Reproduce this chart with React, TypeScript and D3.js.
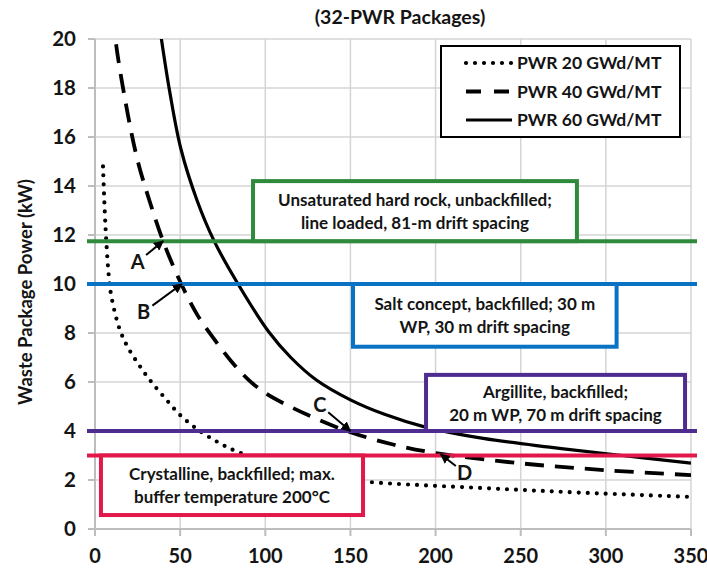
import React from "react";
import * as d3 from "d3";

const xTicks = [0, 50, 100, 150, 200, 250, 300, 350];
const yTicks = [0, 2, 4, 6, 8, 10, 12, 14, 16, 18, 20];

const pwr20: [number, number][] = [
  [4.7, 14.8], [5.7, 13.0], [6.6, 11.8], [8, 10.4], [9.6, 9.5], [14.5, 8.15], [19.4, 7.4],
  [25.3, 6.75], [32, 6.1], [41, 5.35], [50, 4.65], [60.5, 4.05], [72, 3.55], [82, 3.2],
  [110, 2.5], [130, 2.18], [159, 1.93], [228, 1.67], [287, 1.48], [350, 1.31],
];
const pwr40: [number, number][] = [
  [11, 21], [12, 20], [18, 17.4], [25, 15.05], [32, 13.4], [40, 11.75],
  [50, 10.1], [60, 8.75], [70, 7.75], [80, 6.85], [90, 6.1], [100, 5.55], [115, 4.98],
  [130, 4.5], [150, 3.95], [175, 3.45], [200, 3.1], [250, 2.68], [300, 2.4], [350, 2.2],
];
const pwr60: [number, number][] = [
  [37, 21], [39, 20], [44, 17.8], [50.5, 15.5], [60, 13.4], [70, 11.75], [84, 10],
  [102, 8.05], [115, 7.0], [130, 6.08], [150, 5.27], [170, 4.68], [193, 4.18],
  [228, 3.7], [267, 3.34], [307, 3.02], [350, 2.69],
];

const seriesNames = ["PWR 20 GWd/MT", "PWR 40 GWd/MT", "PWR 60 GWd/MT"];
const limitValues = [11.75, 10, 4, 3];
const limitColors = ["#2f8a3c", "#0a72c2", "#4f2d90", "#e3184a"];
const limitLines = [
  ["Unsaturated hard rock, unbackfilled;", "line loaded, 81-m drift spacing"],
  ["Salt concept, backfilled; 30 m", "WP, 30 m drift spacing"],
  ["Argillite, backfilled;", "20 m WP, 70 m drift spacing"],
  ["Crystalline, backfilled; max.", "buffer temperature 200°C"],
];
// box extents in data units: [x0, x1, yTop, yBottom]
const boxExtents = [
  [92.8, 283, 14.2, 11.75],
  [151.5, 306.3, 10, 7.44],
  [194.4, 346.5, 6.29, 4],
  [3.5, 157.4, 3, 0.57],
];
const markerLabels = ["A", "B", "C", "D"];
const markerPoints: [number, number][] = [[40, 11.75], [51, 10], [150, 4], [203, 3.05]];
const markerTextPos: [number, number][] = [[25, 10.9], [28.5, 8.85], [132, 5.05], [217, 2.3]];

const FONT = "Lato, 'Open Sans', sans-serif";
const INK = "#141414";

export default function App() {
  const W = 707, H = 571;
  const x = d3.scaleLinear().domain([0, 350]).range([95, 691]);
  const y = d3.scaleLinear().domain([0, 20]).range([529, 39]);
  const line = d3.line<[number, number]>().x(d => x(d[0])).y(d => y(d[1])).curve(d3.curveCatmullRom.alpha(0.5));
  const styles = [
    { dash: "0 9", width: 4.2, cap: "round" as const },
    { dash: "19 11", width: 3.8, cap: "butt" as const },
    { dash: "", width: 3.2, cap: "butt" as const },
  ];
  const series = [pwr20, pwr40, pwr60];

  return (
    <svg width={W} height={H} style={{ display: "block", position: "absolute", left: 0, top: 0 }} fontFamily={FONT}>
      <defs>
        <clipPath id="plot">
          <rect x={x(0)} y={y(20)} width={x(350) - x(0)} height={y(0) - y(20)} />
        </clipPath>
        <marker id="arr" viewBox="0 0 10 10" refX="9" refY="5" markerWidth="5" markerHeight="5" orient="auto-start-reverse">
          <path d="M0,0 L10,5 L0,10 z" fill="#000" />
        </marker>
      </defs>
      <rect width={W} height={H} fill="#fff" />
      <text x={400} y={24} textAnchor="middle" fontSize={19.5} fontWeight={700} fill={INK}>(32-PWR Packages)</text>

      {/* grid */}
      {xTicks.map(t => (
        <line key={"gx" + t} x1={x(t)} x2={x(t)} y1={y(0)} y2={y(20)} stroke="#d4d4d4" strokeWidth={1.5} />
      ))}
      {yTicks.map(t => (
        <line key={"gy" + t} x1={x(0)} x2={x(350)} y1={y(t)} y2={y(t)} stroke="#d4d4d4" strokeWidth={1.5} />
      ))}
      {/* axes */}
      <line x1={x(0)} x2={x(0)} y1={y(0)} y2={y(20)} stroke="#bdbdbd" strokeWidth={2} />
      <line x1={x(0)} x2={x(350)} y1={y(0)} y2={y(0)} stroke="#bdbdbd" strokeWidth={2} />
      {yTicks.map(t => (
        <line key={"ty" + t} x1={x(0) - 7} x2={x(0)} y1={y(t)} y2={y(t)} stroke="#bdbdbd" strokeWidth={2} />
      ))}
      {xTicks.map(t => (
        <line key={"tx" + t} x1={x(t)} x2={x(t)} y1={y(0)} y2={y(0) + 7} stroke="#bdbdbd" strokeWidth={2} />
      ))}
      {yTicks.map(t => (
        <text key={"ly" + t} x={76} y={y(t)} dy="0.36em" textAnchor="end" fontSize={20.5} fontWeight={700} fill={INK}>{t}</text>
      ))}
      {xTicks.map(t => (
        <text key={"lx" + t} x={x(t)} y={556} dy="0.36em" textAnchor="middle" fontSize={20} fontWeight={700} fill={INK}>{t}</text>
      ))}
      <text transform={`translate(32,292) rotate(-90)`} textAnchor="middle" fontSize={18.5} fontWeight={700} fill={INK}>Waste Package Power (kW)</text>

      {/* curves */}
      <g clipPath="url(#plot)">
        {series.map((s, i) => (
          <path key={"s" + i} d={line(s) || ""} fill="none" stroke="#000" strokeWidth={styles[i].width}
            strokeDasharray={styles[i].dash} strokeLinecap={styles[i].cap} />
        ))}
      </g>

      {/* limit lines */}
      {limitValues.map((v, i) => (
        <line key={"lim" + i} x1={x(0) - 8} x2={x(350) + 6} y1={y(v)} y2={y(v)} stroke={limitColors[i]} strokeWidth={4} />
      ))}

      {/* boxes */}
      {boxExtents.map((b, i) => {
        const bx0 = x(b[0]), bx1 = x(b[1]), by0 = y(b[2]), by1 = y(b[3]);
        const cx = (bx0 + bx1) / 2, cy = (by0 + by1) / 2;
        return (
          <g key={"box" + i}>
            <rect x={bx0} y={by0} width={bx1 - bx0} height={by1 - by0} fill="#fff" stroke={limitColors[i]} strokeWidth={4} />
            <text x={cx} y={cy - 11} dy="0.36em" textAnchor="middle" fontSize={17} fontWeight={700} fill={INK}>{limitLines[i][0]}</text>
            <text x={cx} y={cy + 11.5} dy="0.36em" textAnchor="middle" fontSize={17} fontWeight={700} fill={INK}>{limitLines[i][1]}</text>
          </g>
        );
      })}

      {/* markers */}
      {markerLabels.map((m, i) => {
        const tx = x(markerTextPos[i][0]), ty = y(markerTextPos[i][1]);
        const px = x(markerPoints[i][0]), py = y(markerPoints[i][1]);
        const ang = Math.atan2(py - ty, px - tx);
        const sx = tx + Math.cos(ang) * 11, sy = ty + Math.sin(ang) * 11;
        return (
          <g key={"m" + i}>
            <line x1={sx} y1={sy} x2={px} y2={py} stroke="#000" strokeWidth={2} markerEnd="url(#arr)" />
            <text x={tx} y={ty} dy="0.36em" textAnchor="middle" fontSize={20} fontWeight={700} fill={INK}>{m}</text>
          </g>
        );
      })}

      {/* legend */}
      <rect x={441} y={46} width={239} height={91} fill="#fff" stroke="#000" strokeWidth={2} />
      {seriesNames.map((n, i) => (
        <g key={"lg" + i}>
          <line x1={466} x2={512} y1={63 + i * 28.5} y2={63 + i * 28.5} stroke="#000" strokeWidth={styles[i].width}
            strokeDasharray={i === 1 ? "15 13" : styles[i].dash} strokeLinecap={styles[i].cap} />
          <text x={517} y={63 + i * 28.5} dy="0.36em" fontSize={17.5} fontWeight={700} fill={INK}>{n}</text>
        </g>
      ))}
    </svg>
  );
}
